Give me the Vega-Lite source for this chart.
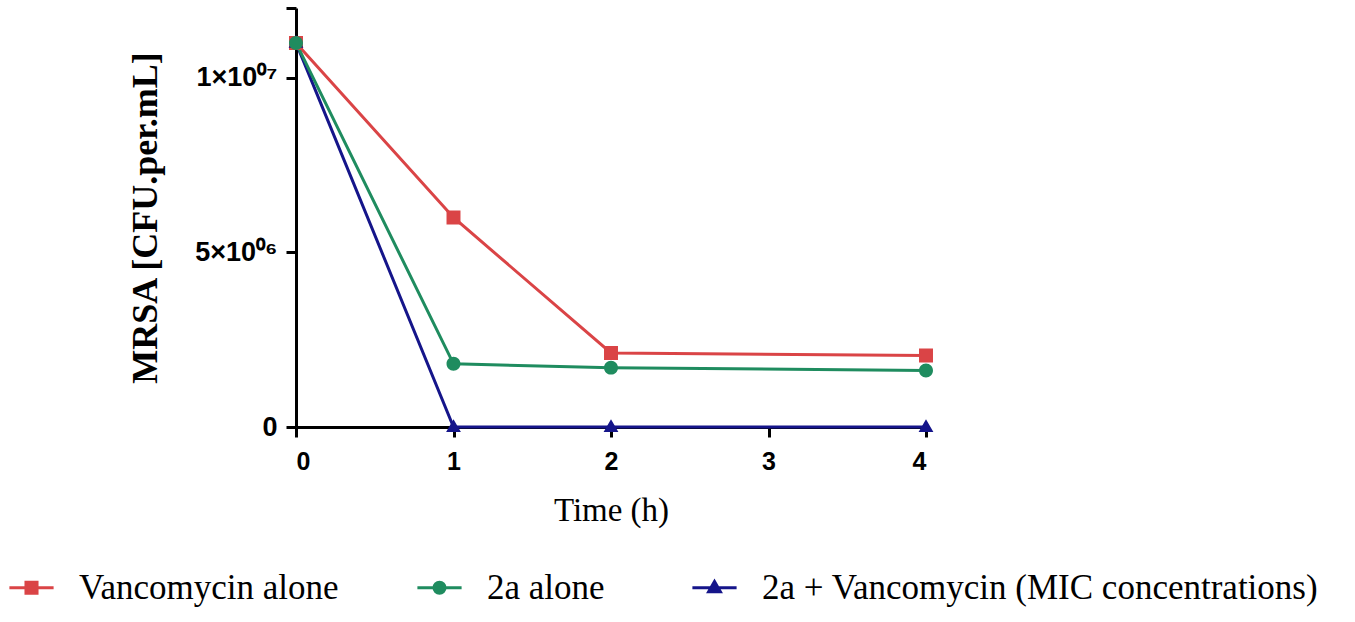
{
  "$schema": "https://vega.github.io/schema/vega-lite/v6.json",
  "width": 630,
  "height": 419,
  "autosize": "none",
  "padding": {"left": 296, "top": 8, "right": 429, "bottom": 195},
  "background": "white",
  "config": {"view": {"stroke": null}, "font": "Liberation Sans"},
  "data": {
    "values": [
      {"series": "Vancomycin alone", "time": 0, "cfu": 11000000},
      {"series": "Vancomycin alone", "time": 1, "cfu": 6000000},
      {"series": "Vancomycin alone", "time": 2, "cfu": 2120000},
      {"series": "Vancomycin alone", "time": 4, "cfu": 2050000},
      {"series": "2a + Vancomycin  (MIC concentrations)", "time": 0, "cfu": 11000000},
      {"series": "2a + Vancomycin  (MIC concentrations)", "time": 1, "cfu": 0},
      {"series": "2a + Vancomycin  (MIC concentrations)", "time": 2, "cfu": 0},
      {"series": "2a + Vancomycin  (MIC concentrations)", "time": 4, "cfu": 0},
      {"series": "2a  alone", "time": 0, "cfu": 11000000},
      {"series": "2a  alone", "time": 1, "cfu": 1810000},
      {"series": "2a  alone", "time": 2, "cfu": 1700000},
      {"series": "2a  alone", "time": 4, "cfu": 1620000}
    ]
  },
  "encoding": {
    "x": {
      "field": "time",
      "type": "quantitative",
      "scale": {"domain": [0, 4]},
      "axis": {
        "values": [0, 1, 2, 3, 4],
        "format": "d",
        "title": "Time (h)",
        "titleFont": "Liberation Serif",
        "titleFontSize": 33,
        "titleFontWeight": "normal",
        "titleColor": "black",
        "titlePadding": 20,
        "labelFont": "Liberation Sans",
        "labelFontSize": 25,
        "labelFontWeight": "bold",
        "labelColor": "black",
        "labelPadding": 12,
        "tickSize": 10,
        "tickWidth": 3,
        "tickColor": "black",
        "domainColor": "black",
        "domainWidth": 3,
        "grid": false,
        "zindex": 0
      }
    },
    "y": {
      "field": "cfu",
      "type": "quantitative",
      "scale": {"domain": [0, 12000000]},
      "axis": {
        "values": [0, 5000000, 10000000, 12000000],
        "labelExpr": "datum.value == 10000000 ? '1×10⁰⁷' : (datum.value == 5000000 ? '5×10⁰⁶' : (datum.value == 0 ? '0' : ''))",
        "title": "MRSA [CFU.per.mL]",
        "titleFont": "Liberation Serif",
        "titleFontSize": 36,
        "titleFontWeight": "bold",
        "titleColor": "black",
        "titlePadding": 30,
        "labelFont": "Liberation Sans",
        "labelFontSize": 27,
        "labelFontWeight": "bold",
        "labelColor": "black",
        "labelPadding": 9,
        "tickSize": 10,
        "tickWidth": 3,
        "tickColor": "black",
        "domainColor": "black",
        "domainWidth": 3,
        "grid": false,
        "zindex": 0
      }
    },
    "color": {
      "field": "series",
      "type": "nominal",
      "scale": {
        "domain": ["Vancomycin alone", "2a  alone", "2a + Vancomycin  (MIC concentrations)"],
        "range": ["#DA4446", "#1F8C5F", "#15158A"]
      },
      "legend": {
        "orient": "none", "direction": "horizontal", "legendX": -282, "legendY": 562, "title": null,
        "labelFont": "Liberation Serif", "labelFontSize": 35, "labelColor": "black", "labelLimit": 1000,
        "symbolSize": 169, "symbolStrokeWidth": 3, "labelOffset": 30, "columnPadding": 72, "symbolOpacity": 1
      }
    }
  },
  "layer": [
    {
      "mark": {"type": "line", "strokeWidth": 3}
    },
    {
      "mark": {"type": "point", "filled": true, "opacity": 1, "size": 270},
      "encoding": {
        "shape": {
          "field": "series",
          "type": "nominal",
          "scale": {
            "domain": ["Vancomycin alone", "2a  alone", "2a + Vancomycin  (MIC concentrations)"],
            "range": [
              "M-3.4,0H3.4M-0.85,-0.85H0.85V0.85H-0.85Z",
              "M-3.4,0H3.4M0.85,0A0.85,0.85,0,1,1,-0.85,0A0.85,0.85,0,1,1,0.85,0Z",
              "M-3.4,0H3.4M0,-0.95L0.9,0.6L-0.9,0.6Z"
            ]
          },
          "legend": {
            "orient": "none", "direction": "horizontal", "legendX": -282, "legendY": 562, "title": null,
            "labelFont": "Liberation Serif", "labelFontSize": 35, "labelColor": "black", "labelLimit": 1000,
            "symbolSize": 169, "symbolStrokeWidth": 3, "labelOffset": 30, "columnPadding": 72, "symbolOpacity": 1
          }
        }
      }
    }
  ]
}
